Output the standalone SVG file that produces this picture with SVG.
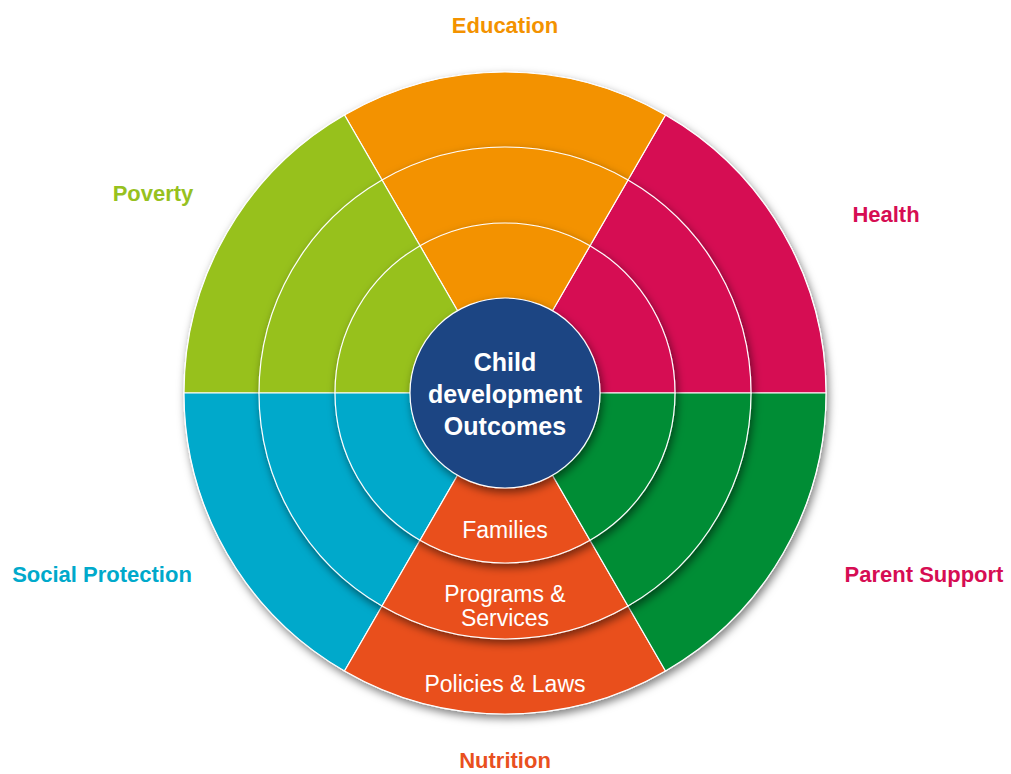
<svg xmlns="http://www.w3.org/2000/svg" width="1011" height="774" viewBox="0 0 1011 774">
<defs>
<filter id="sh" x="-10%" y="-10%" width="125%" height="125%">
<feDropShadow dx="2" dy="4" stdDeviation="4" flood-color="#000" flood-opacity="0.5"/>
</filter>
<style>
.w{stroke:#fff;stroke-width:1.2;stroke-linejoin:round}
.edu{fill:#F39200}.hea{fill:#D60D53}.pov{fill:#97C11F}.soc{fill:#00A9CB}.nut{fill:#E9501E}.par{fill:#008D36}
.lbl{font-family:"Liberation Sans",Arial,sans-serif;font-weight:bold;font-size:22px;text-anchor:middle}
.ctr{font-family:"Liberation Sans",Arial,sans-serif;font-weight:bold;font-size:25px;text-anchor:middle;fill:#fff}
.in{font-family:"Liberation Sans",Arial,sans-serif;font-size:23px;text-anchor:middle;fill:#fff}
</style>
</defs>
<rect width="1011" height="774" fill="#fff"/>

<g id="ring-outer" filter="url(#sh)">
<path id="outer-health" class="w hea" d="M505 393 L826 393 A321 321 0 0 0 665.5 115 Z"/>
<path id="outer-education" class="w edu" d="M505 393 L665.5 115 A321 321 0 0 0 344.5 115 Z"/>
<path id="outer-poverty" class="w pov" d="M505 393 L344.5 115 A321 321 0 0 0 184 393 Z"/>
<path id="outer-social" class="w soc" d="M505 393 L184 393 A321 321 0 0 0 344.5 671 Z"/>
<path id="outer-nutrition" class="w nut" d="M505 393 L344.5 671 A321 321 0 0 0 665.5 671 Z"/>
<path id="outer-parent" class="w par" d="M505 393 L665.5 671 A321 321 0 0 0 826 393 Z"/>
</g>

<g id="ring-middle" filter="url(#sh)">
<path class="w hea" d="M505 393 L751 393 A246 246 0 0 0 628 179.96 Z"/>
<path class="w edu" d="M505 393 L628 179.96 A246 246 0 0 0 382 179.96 Z"/>
<path class="w pov" d="M505 393 L382 179.96 A246 246 0 0 0 259 393 Z"/>
<path class="w soc" d="M505 393 L259 393 A246 246 0 0 0 382 606.04 Z"/>
<path class="w nut" d="M505 393 L382 606.04 A246 246 0 0 0 628 606.04 Z"/>
<path class="w par" d="M505 393 L628 606.04 A246 246 0 0 0 751 393 Z"/>
</g>

<g id="ring-inner" filter="url(#sh)">
<path class="w hea" d="M505 393 L675 393 A170 170 0 0 0 590 245.78 Z"/>
<path class="w edu" d="M505 393 L590 245.78 A170 170 0 0 0 420 245.78 Z"/>
<path class="w pov" d="M505 393 L420 245.78 A170 170 0 0 0 335 393 Z"/>
<path class="w soc" d="M505 393 L335 393 A170 170 0 0 0 420 540.22 Z"/>
<path class="w nut" d="M505 393 L420 540.22 A170 170 0 0 0 590 540.22 Z"/>
<path class="w par" d="M505 393 L590 540.22 A170 170 0 0 0 675 393 Z"/>
</g>

<g id="center" filter="url(#sh)">
<circle cx="505" cy="393" r="95" fill="#1C4483" stroke="#fff" stroke-width="1.2"/>
</g>
<g id="center-text">
<text class="ctr" x="505" y="371">Child</text>
<text class="ctr" x="505" y="403">development</text>
<text class="ctr" x="505" y="435">Outcomes</text>
</g>

<g id="nutrition-layers">
<text class="in" x="505" y="538">Families</text>
<text class="in" x="505" y="602">Programs &amp;</text>
<text class="in" x="505" y="626">Services</text>
<text class="in" x="505" y="692">Policies &amp; Laws</text>
</g>

<g id="labels">
<text id="lbl-education" class="lbl" x="505" y="33" fill="#F39200">Education</text>
<text id="lbl-poverty" class="lbl" x="153" y="201" fill="#97C11F">Poverty</text>
<text id="lbl-health" class="lbl" x="886" y="222" fill="#D60D53">Health</text>
<text id="lbl-social" class="lbl" x="102" y="582" fill="#00A9CB">Social Protection</text>
<text id="lbl-parent" class="lbl" x="924" y="582" fill="#D60D53">Parent Support</text>
<text id="lbl-nutrition" class="lbl" x="505" y="768" fill="#E9501E">Nutrition</text>
</g>
</svg>
